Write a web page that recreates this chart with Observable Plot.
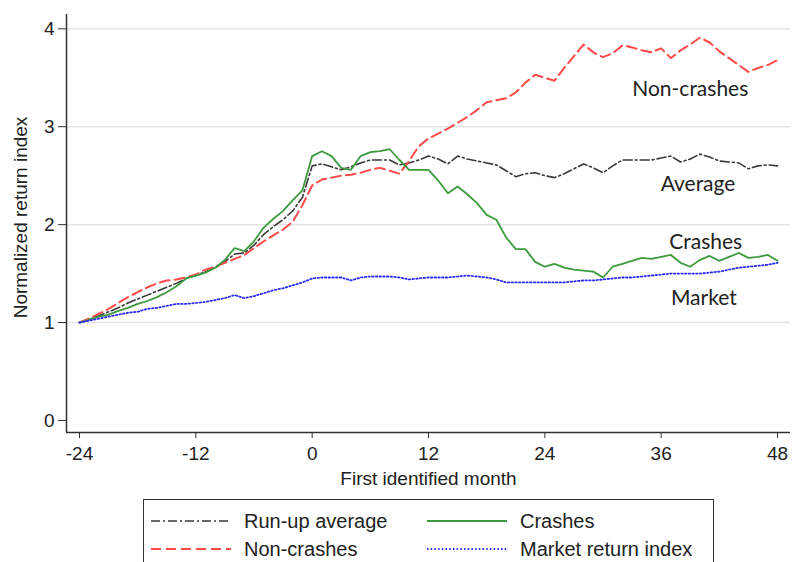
<!DOCTYPE html>
<html>
<head>
<meta charset="utf-8">
<script src="https://cdn.jsdelivr.net/npm/d3@7"></script>
<script src="https://cdn.jsdelivr.net/npm/@observablehq/plot@0.6"></script>
<style>
  html, body { margin: 0; padding: 0; background: #fff; overflow: hidden; width: 794px; height: 562px; }
  #chart svg { display: block; }
  #legend {
    position: absolute; left: 143px; top: 499px; width: 571px; height: 80px;
    border: 1.5px solid #333; box-sizing: border-box; background: #fff;
    font-family: "Liberation Sans", Arial, sans-serif; font-size: 20px; color: #222;
  }
  .item { position: absolute; display: flex; align-items: center; height: 26px; }
  .item svg { margin-right: 12px; }
</style>
</head>
<body>
<div id="chart"></div>
<div id="legend"></div>
<script>
// Months relative to first identified month
const months = d3.range(-24, 49);

// Run-up average (black dash-dot)
const average = [1.00,1.03,1.07,1.11,1.15,1.20,1.24,1.28,1.32,1.36,1.40,1.45,1.48,
  1.52,1.56,1.62,1.70,1.71,1.79,1.90,1.98,2.05,2.14,2.28,
  2.60,2.62,2.59,2.56,2.59,2.63,2.66,2.66,2.66,2.61,2.63,2.66,
  2.70,2.67,2.62,2.70,2.67,2.65,2.63,2.61,2.55,2.49,2.52,2.53,
  2.50,2.48,2.52,2.57,2.62,2.58,2.53,2.60,2.66,2.66,2.66,2.66,
  2.68,2.70,2.64,2.67,2.72,2.69,2.65,2.64,2.63,2.57,2.60,2.61,2.60];

// Non-crashes (red dashed)
const nonCrashes = [1.00,1.04,1.09,1.14,1.20,1.26,1.31,1.36,1.40,1.43,1.44,1.46,1.49,
  1.54,1.57,1.61,1.65,1.69,1.76,1.83,1.89,1.95,2.03,2.20,
  2.40,2.46,2.48,2.50,2.51,2.53,2.56,2.58,2.55,2.52,2.65,2.80,
  2.88,2.93,2.98,3.04,3.10,3.17,3.25,3.27,3.29,3.35,3.45,3.53,
  3.50,3.47,3.60,3.72,3.84,3.76,3.71,3.75,3.83,3.81,3.78,3.76,
  3.80,3.70,3.78,3.84,3.91,3.86,3.77,3.70,3.63,3.56,3.60,3.63,3.68];

// Crashes (green solid)
const crashes = [1.00,1.03,1.06,1.08,1.12,1.15,1.19,1.22,1.26,1.31,1.37,1.45,1.48,
  1.51,1.56,1.64,1.76,1.73,1.83,1.97,2.06,2.14,2.25,2.35,
  2.70,2.75,2.70,2.58,2.56,2.70,2.74,2.75,2.77,2.66,2.56,2.56,
  2.56,2.45,2.32,2.39,2.31,2.22,2.10,2.05,1.87,1.75,1.75,1.62,
  1.57,1.60,1.56,1.54,1.53,1.52,1.46,1.57,1.60,1.63,1.66,1.65,
  1.67,1.69,1.61,1.57,1.64,1.68,1.63,1.67,1.71,1.66,1.67,1.69,1.63];

// Market return index (blue dotted)
const market = [1.00,1.02,1.04,1.06,1.08,1.10,1.11,1.14,1.15,1.17,1.19,1.19,1.20,
  1.21,1.23,1.25,1.28,1.25,1.27,1.30,1.33,1.35,1.38,1.41,
  1.45,1.46,1.46,1.46,1.43,1.46,1.47,1.47,1.47,1.46,1.44,1.45,
  1.46,1.46,1.46,1.47,1.48,1.47,1.46,1.44,1.41,1.41,1.41,1.41,
  1.41,1.41,1.41,1.42,1.43,1.43,1.44,1.45,1.46,1.46,1.47,1.48,
  1.49,1.50,1.50,1.50,1.50,1.51,1.52,1.54,1.56,1.57,1.58,1.59,1.61];

const xTicks = [-24, -12, 0, 12, 24, 36, 48];
const yTicks = [0, 1, 2, 3, 4];

// In-plot series labels (data coordinates)
const labelText = ["Non-crashes", "Average", "Crashes", "Market"];
const labelMonth = [39.0, 39.8, 40.6, 40.4];
const labelValue = [3.38, 2.41, 1.82, 1.25];

const xTitle = "First identified month";
const yTitle = "Normalized return index";

const xDomain = [-25.34, 49.34];
const yDomain = [-0.123, 4.146];

const series = [
  {name: "Run-up average", values: average, stroke: "#3a3a3a", dash: "9,3,2,3", width: 1.6},
  {name: "Non-crashes", values: nonCrashes, stroke: "#ff4a4a", dash: "10,5", width: 2},
  {name: "Crashes", values: crashes, stroke: "#3d9a3d", dash: null, width: 1.8},
  {name: "Market return index", values: market, stroke: "#2a2aff", dash: "1.5,2.2", width: 1.8}
];

const lineMarks = series.map(s => Plot.line(
  months.map((m, i) => ({month: m, value: s.values[i]})),
  {x: "month", y: "value", stroke: s.stroke, strokeWidth: s.width,
   strokeDasharray: s.dash || undefined, strokeLinejoin: "round"}
));

const labels = labelText.map((t, i) => ({text: t, month: labelMonth[i], value: labelValue[i]}));

const chart = Plot.plot({
  width: 794,
  height: 490,
  marginLeft: 66,
  marginRight: 4,
  marginTop: 14,
  marginBottom: 58,
  x: {domain: xDomain},
  y: {domain: yDomain},
  style: {fontFamily: "'Liberation Sans', Arial, sans-serif", fontSize: "19px", color: "#222", background: "#fff"},
  marks: [
    Plot.gridY([1, 2, 3, 4], {stroke: "#e4e4e4", strokeOpacity: 1, strokeWidth: 1.5}),
    ...lineMarks,
    Plot.text(labels, {x: "month", y: "value", text: "text", fontSize: 21,
      fontFamily: "Lato, 'Open Sans', sans-serif", fill: "#222"}),
    Plot.ruleX([xDomain[0]], {stroke: "#333", strokeWidth: 1.5}),
    Plot.ruleY([yDomain[0]], {stroke: "#333", strokeWidth: 1.5}),
    Plot.axisY({ticks: yTicks, tickSize: 8, tickPadding: 4, stroke: "#333",
      tickFormat: d => String(d), label: null}),
    Plot.axisX({ticks: xTicks, tickSize: 6, tickPadding: 8, stroke: "#333",
      tickFormat: d => String(d), label: null}),
    Plot.text([yTitle], {frameAnchor: "left", rotate: -90, dx: -46, dy: -6, textAnchor: "middle",
      lineAnchor: "middle", fontSize: 19, fill: "#222"}),
    Plot.text([xTitle], {frameAnchor: "bottom", dy: 46, textAnchor: "middle",
      lineAnchor: "middle", fontSize: 19, fill: "#222"})
  ]
});
d3.select(chart).selectAll('g[aria-label$="tick label"]').attr("font-size", 19).attr("fill", "#222");
document.getElementById("chart").appendChild(chart);

// Legend
const legend = document.getElementById("legend");
const legendLeft = [6, 282];
const legendTop = [8, 36];
series.forEach((s, i) => {
  const col = i === 0 || i === 1 ? 0 : 1;
  const row = i === 0 || i === 2 ? 0 : 1;
  const div = document.createElement("div");
  div.className = "item";
  div.style.left = legendLeft[col] + "px";
  div.style.top = legendTop[row] + "px";
  const sw = d3.create("svg").attr("width", 82).attr("height", 10);
  sw.append("line").attr("x1", 1).attr("x2", 81).attr("y1", 5).attr("y2", 5)
    .attr("stroke", s.stroke).attr("stroke-width", s.width)
    .attr("stroke-dasharray", s.dash || null);
  div.appendChild(sw.node());
  const span = document.createElement("span");
  span.textContent = s.name;
  div.appendChild(span);
  legend.appendChild(div);
});
</script>
</body>
</html>
